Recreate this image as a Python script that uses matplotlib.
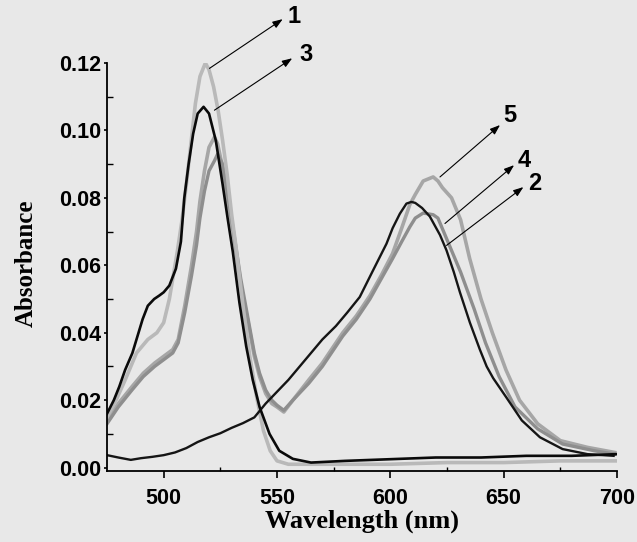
import matplotlib
matplotlib.use("Agg")
import matplotlib.pyplot as plt

# curve 1 (light grey, one band)
wl1 = [475, 479, 483, 488, 493, 497, 500, 502.5, 504, 506, 508, 510, 512, 514, 516, 518.4,
       520, 522, 524, 526, 528, 530, 532, 535, 538, 541, 544, 547, 550, 555, 575, 600, 625, 650, 675, 700]
ab1 = [0.015, 0.020, 0.026, 0.034, 0.038, 0.040, 0.043, 0.050, 0.056, 0.064, 0.073, 0.084, 0.096, 0.108, 0.116, 0.120,
       0.118, 0.113, 0.106, 0.097, 0.087, 0.075, 0.065, 0.048, 0.033, 0.021, 0.011, 0.005, 0.002, 0.001, 0.001, 0.001, 0.0015, 0.0015, 0.002, 0.002]

# curve 3 (black, one band)
wl3 = [475, 478, 480.4, 483, 486.2, 490.7, 493, 495.8, 498, 500, 502.5, 505.4, 507.6, 509.1, 511, 513, 515, 517.6,
       520, 523, 526, 528.2, 530.5, 533.4, 536.4, 539.3, 542.3, 546.7, 551, 557, 565, 580, 600, 620, 640, 660, 680, 700]
ab3 = [0.016, 0.020, 0.024, 0.029, 0.034, 0.044, 0.048, 0.050, 0.051, 0.052, 0.054, 0.059, 0.067, 0.080, 0.090, 0.099, 0.105, 0.107,
       0.105, 0.097, 0.084, 0.074, 0.064, 0.049, 0.036, 0.026, 0.018, 0.010, 0.005, 0.0026, 0.0015, 0.002, 0.0025, 0.003, 0.003, 0.0035, 0.0035, 0.004]

# curve 2 (black, red band only)
wl2 = [475, 480, 485.5, 490, 495, 500, 505, 510, 515, 520, 525, 530, 535, 540, 545, 550, 555, 560, 565, 570, 576, 581,
       586.5, 592, 598.3, 601, 604.2, 607.1, 609.3, 611, 614, 617.4, 621.9, 624.8, 628, 630.7, 635.1, 639.5, 642.5,
       645.4, 651, 658, 666, 676, 687, 698.5]
ab2 = [0.0037, 0.003, 0.0023, 0.0028, 0.0032, 0.0037, 0.0045, 0.0058, 0.0076, 0.009, 0.0102, 0.0118, 0.0132, 0.0149,
       0.019, 0.0225, 0.026, 0.030, 0.034, 0.038, 0.042, 0.046, 0.0506, 0.058, 0.0664, 0.071, 0.0753, 0.0783, 0.0788,
       0.0785, 0.077, 0.0745, 0.069, 0.0644, 0.058, 0.052, 0.043, 0.035, 0.030, 0.0265, 0.021, 0.014, 0.009, 0.0055,
       0.004, 0.0035]

# curves 4 and 5 (grey, two bands)
wl45 = [475, 480, 486, 491, 496, 500, 504, 506.4, 509.3, 512.3, 514.5, 516, 518, 520, 522.4, 523.8, 526, 528, 530.6,
        534, 537, 540, 542.3, 545, 547.7, 550, 553, 557, 564, 570, 579, 585, 591, 596, 601, 605, 608.6, 611, 614.5,
        618.9, 621]
ab5_left = [0.014, 0.019, 0.024, 0.028, 0.031, 0.033, 0.035, 0.038, 0.048, 0.060, 0.070, 0.079, 0.088, 0.095, 0.098,
            0.096, 0.089, 0.080, 0.070, 0.054, 0.044, 0.033, 0.027, 0.022, 0.019, 0.018, 0.0165, 0.020, 0.026, 0.031,
            0.040, 0.045, 0.051, 0.057, 0.0635, 0.071, 0.078, 0.081, 0.085, 0.0862, 0.085]
ab4_left = [0.013, 0.018, 0.023, 0.027, 0.030, 0.032, 0.034, 0.037, 0.046, 0.057, 0.066, 0.074, 0.082, 0.088, 0.091,
            0.093, 0.090, 0.082, 0.071, 0.056, 0.045, 0.034, 0.028, 0.023, 0.020, 0.0185, 0.017, 0.020, 0.025, 0.030,
            0.039, 0.044, 0.050, 0.056, 0.062, 0.067, 0.0714, 0.074, 0.0755, 0.075, 0.074]
wl5_tail = [623, 627, 631, 635, 640, 645, 651, 657, 665, 675, 687, 699]
ab5_tail = [0.083, 0.080, 0.0735, 0.062, 0.050, 0.040, 0.029, 0.020, 0.013, 0.008, 0.006, 0.0045]
wl4_tail = [626, 631, 637, 642, 648, 655, 665, 676, 690, 699]
ab4_tail = [0.066, 0.058, 0.047, 0.037, 0.027, 0.018, 0.0115, 0.007, 0.005, 0.004]

labels = ["1", "3", "5", "4", "2"]
# (curve point, arrow head, text position)
label_pos = [((520.2, 0.1184), (552.5, 0.1330), (554.5, 0.1337)),
             ((522.4, 0.1060), (556.7, 0.1214), (560.0, 0.1224)),
             ((621.9, 0.0862), (648.4, 0.1016), (650.0, 0.1045)),
             ((624.1, 0.0724), (654.6, 0.0897), (656.0, 0.0912)),
             ((624.8, 0.0659), (658.7, 0.0832), (660.8, 0.0843))]

bg = "#e8e8e8"
fig = plt.figure(figsize=(6.37, 5.42), dpi=100, facecolor=bg)
ax = fig.add_axes([0.168, 0.131, 0.8006, 0.7528])
ax.set_facecolor(bg)

ax.plot(wl45 + wl5_tail, ab5_left + ab5_tail, color="#a6a6a6", lw=2.6)
ax.plot(wl45 + wl4_tail, ab4_left + ab4_tail, color="#8e8e8e", lw=2.4)
ax.plot(wl1, ab1, color="#b9b9b9", lw=2.6)
ax.plot(wl2, ab2, color="#151515", lw=1.7)
ax.plot(wl3, ab3, color="#0a0a0a", lw=1.9)

for lab, (tail, head, txt) in zip(labels, label_pos):
    ax.annotate("", xy=head, xytext=tail, annotation_clip=False,
                arrowprops=dict(arrowstyle="-|>,head_length=0.6,head_width=0.22", color="black", lw=0.8,
                                shrinkA=0, shrinkB=0))
    ax.text(txt[0], txt[1], lab, ha="left", va="center", fontsize=17, fontweight="bold",
            family="Liberation Sans", clip_on=False)

ax.set_xlim(475, 700)
ax.set_ylim(-0.001, 0.12)
ax.set_xticks([500, 550, 600, 650, 700])
ax.set_xticks([525, 575, 625, 675], minor=True)
ax.set_yticks([0.00, 0.02, 0.04, 0.06, 0.08, 0.10, 0.12])
ax.set_yticks([0.01, 0.03, 0.05, 0.07, 0.09, 0.11], minor=True)
ax.set_yticklabels(["0.00", "0.02", "0.04", "0.06", "0.08", "0.10", "0.12"])

for s in ["top", "right"]:
    ax.spines[s].set_visible(False)
for s in ["left", "bottom"]:
    ax.spines[s].set_linewidth(1.3)

ax.tick_params(axis="x", which="major", direction="out", length=5, width=1.2, pad=7)
ax.tick_params(axis="x", which="minor", direction="in", length=3, width=1.0)
ax.tick_params(axis="y", which="major", direction="out", length=2, width=1.2, pad=2)
ax.tick_params(axis="y", which="minor", direction="in", length=4, width=1.0)
for t in ax.get_xticklabels():
    t.set_fontfamily("Liberation Sans")
    t.set_fontweight("bold")
    t.set_fontsize(15.5)
for t in ax.get_yticklabels():
    t.set_fontfamily("Liberation Sans")
    t.set_fontweight("bold")
    t.set_fontsize(15.5)

ax.set_xlabel("Wavelength (nm)", family="Liberation Serif", fontweight="bold", fontsize=19, labelpad=1)
ax.set_ylabel("Absorbance", family="Liberation Serif", fontweight="bold", fontsize=18)
ax.yaxis.set_label_coords(-0.135, 0.51)

fig.savefig("out.png", dpi=100, facecolor=bg)
